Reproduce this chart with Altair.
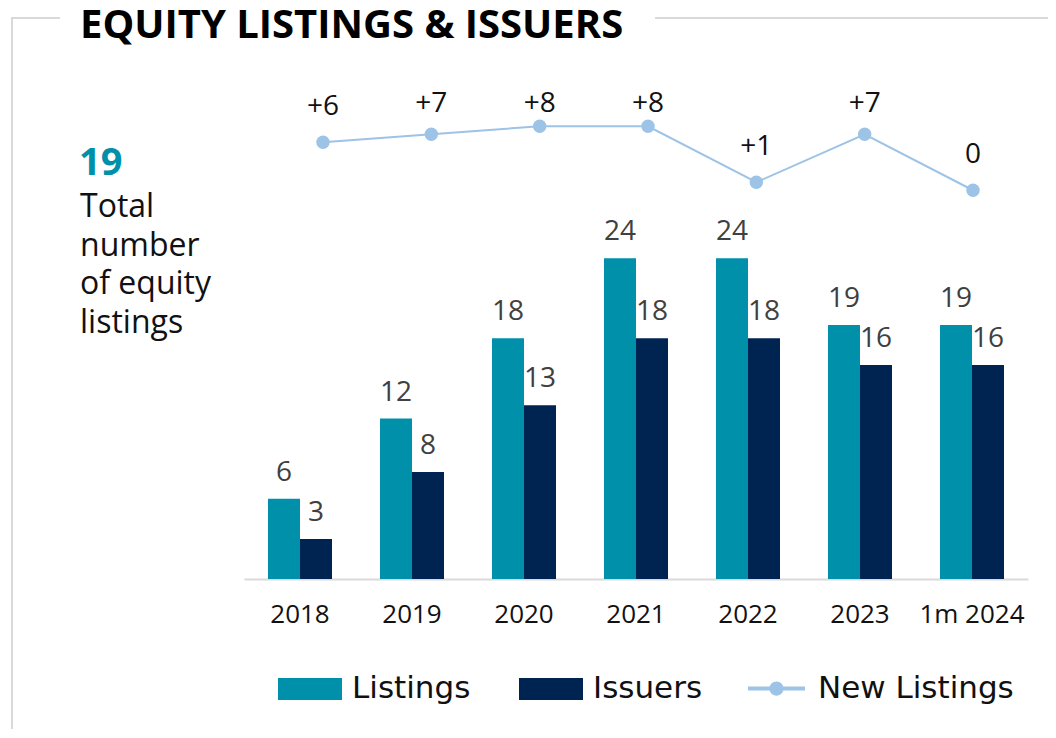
import altair as alt
import pandas as pd

categories = ["2018", "2019", "2020", "2021", "2022", "2023", "1m 2024"]
listings = [6, 12, 18, 24, 24, 19, 19]
issuers = [3, 8, 13, 18, 18, 16, 16]
new_listings = [6, 7, 8, 8, 1, 7, 0]
new_labels = ["+6", "+7", "+8", "+8", "+1", "+7", "0"]
series_names = ["Listings", "Issuers"]
series_colors = ["#0090AA", "#002452"]
line_name = "New Listings"
line_color = "#9DC3E6"

FONT = "Open Sans"
LFONT = "DejaVu Sans"

bars_df = pd.DataFrame(
    [{"cat": c, "series": "Listings", "value": v} for c, v in zip(categories, listings)]
    + [{"cat": c, "series": "Issuers", "value": v} for c, v in zip(categories, issuers)]
)
line_df = pd.DataFrame({"cat": categories, "v": new_listings, "label": new_labels, "s": line_name})

W, H = 784, 508

xband = alt.X("cat:N", sort=categories,
              scale=alt.Scale(paddingInner=0.4286, paddingOuter=0.2143),
              axis=alt.Axis(title=None, labelAngle=0, labelFont=FONT, labelFontSize=26,
                            labelColor="#111111", ticks=False, domainColor="#D9D9D9",
                            domainWidth=2, labelPadding=22))
xoff = alt.XOffset("series:N", sort=series_names, scale=alt.Scale(paddingInner=0, paddingOuter=0))
ybar = alt.Y("value:Q", scale=alt.Scale(domain=[0, 38], nice=False, zero=True), axis=None)

bars = alt.Chart(bars_df).mark_bar().encode(
    x=xband, xOffset=xoff, y=ybar,
    color=alt.Color("series:N", sort=series_names,
                    scale=alt.Scale(domain=series_names, range=series_colors),
                    legend=alt.Legend(title=None, orient="none", direction="horizontal",
                                      legendX=34, legendY=586, padding=0,
                                      symbolType="M-1,-0.34H1V0.34H-1Z", symbolSize=4096,
                                      symbolStrokeWidth=0, labelFont=LFONT, labelFontSize=31,
                                      labelColor="#111111", labelOffset=10, columnPadding=48,
                                      labelLimit=0)),
)
bar_text = alt.Chart(bars_df).mark_text(font=FONT, fontSize=28, color="#404040",
                                         baseline="bottom", dy=-12).encode(
    x=xband, xOffset=xoff, y=ybar, text=alt.Text("value:Q"))
bar_layer = alt.layer(bars, bar_text)

xpt = alt.X("cat:N", sort=categories, scale=alt.Scale(type="point", range=[79, 729], padding=0),
            axis=None)
yscale = alt.Scale(domain=[-48.594, 14.906], nice=False, zero=False)
yline = alt.Y("v:Q", scale=yscale, axis=None)

line = alt.Chart(line_df).mark_line(color=line_color, strokeWidth=2).encode(x=xpt, y=yline)
pts = alt.Chart(line_df).mark_circle(size=180, opacity=1).encode(
    x=xpt, y=yline,
    color=alt.Color("s:N", scale=alt.Scale(domain=[line_name], range=[line_color]),
                    legend=alt.Legend(title=None, orient="none", legendX=504, legendY=589,
                                      padding=0,
                                      symbolType="M-1,-0.07H1V0.07H-1Z M-0.25,0A0.25,0.25 0 1,1 0.25,0A0.25,0.25 0 1,1 -0.25,0Z",
                                      symbolSize=3249, symbolStrokeWidth=0, symbolOpacity=1,
                                      labelFont=LFONT, labelFontSize=31, labelColor="#111111",
                                      labelOffset=13, labelLimit=0)),
)
ltext = alt.Chart(line_df).transform_calculate(
    lp="min(datum.v, 6.375)"
).mark_text(font=FONT, fontSize=28, color="#111111", baseline="middle", dy=-35).encode(
    x=xpt, y=alt.Y("lp:Q", scale=yscale, axis=None),
    text="label:N")
line_layer = alt.layer(line, pts, ltext)

one = alt.Data(values=[{"a": 1}])
frame_color = "#D9D9D9"
frame_left = alt.Chart(one).mark_rule(color=frame_color, strokeWidth=2).encode(
    x=alt.value(-232), y=alt.value(-53), y2=alt.value(680))
frame_top1 = alt.Chart(one).mark_rule(color=frame_color, strokeWidth=2).encode(
    x=alt.value(-233), x2=alt.value(-184), y=alt.value(-53))
frame_top2 = alt.Chart(one).mark_rule(color=frame_color, strokeWidth=2).encode(
    x=alt.value(411), x2=alt.value(820), y=alt.value(-53))
title = alt.Chart(one).mark_text(font=FONT, fontSize=40, fontWeight="bold", color="#000000",
                                  align="left", baseline="alphabetic").encode(
    x=alt.value(-164), y=alt.value(-33), text=alt.value("EQUITY LISTINGS & ISSUERS"))
big = alt.Chart(one).mark_text(font=FONT, fontSize=38, fontWeight="bold", color="#0090AA",
                                align="left", baseline="alphabetic").encode(
    x=alt.value(-165), y=alt.value(104), text=alt.value("19"))
desc = alt.Chart(one).mark_text(font=FONT, fontSize=32, color="#111111", align="left",
                                 baseline="alphabetic", lineBreak="\n", lineHeight=38.5).encode(
    x=alt.value(-164), y=alt.value(146), text=alt.value("Total\nnumber\nof equity\nlistings"))

chart = alt.layer(
    frame_left, frame_top1, frame_top2, title, big, desc, bar_layer, line_layer
).resolve_scale(
    x="independent", y="independent", color="independent"
).properties(
    width=W, height=H,
    autosize=alt.AutoSizeParams(type="none"),
    padding={"left": 236, "top": 63, "right": 20, "bottom": 150},
).configure_view(stroke=None)

chart.save("out.html", embed_options={"renderer": "svg", "actions": False})
